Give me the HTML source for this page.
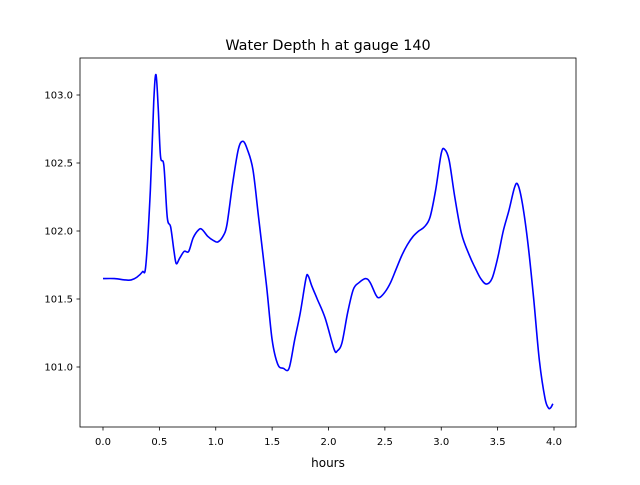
<!DOCTYPE html>
<html><head><meta charset="utf-8"><style>
body{margin:0;background:#fff;width:640px;height:480px;overflow:hidden}
svg text{font-family:"DejaVu Sans","Liberation Sans",sans-serif;fill:#000}
</style></head><body>
<svg id="chart" width="640" height="480">
<rect width="640" height="480" fill="#fff"/>
<text x="328" y="50" font-size="14.4" text-anchor="middle">Water Depth h at gauge 140</text>
<g id="xt"></g>
<g id="yt"></g>
<path id="line" fill="none" stroke="#0000ff" stroke-width="1.6"/>
<rect x="80" y="58" width="496" height="369" fill="none" stroke="#000" stroke-width="0.8"/>
<text x="328" y="467" font-size="12" text-anchor="middle">hours</text>
</svg>
<script>
const hours=[0,0.1,0.2,0.25,0.3,0.35,0.38,0.42,0.45,0.47,0.49,0.51,0.54,0.57,0.6,0.63,0.65,0.68,0.72,0.76,0.8,0.85,0.88,0.93,0.98,1.02,1.07,1.1,1.15,1.2,1.24,1.28,1.33,1.38,1.45,1.5,1.55,1.6,1.65,1.7,1.75,1.8,1.82,1.85,1.9,1.97,2.05,2.08,2.12,2.17,2.22,2.27,2.33,2.37,2.42,2.45,2.5,2.55,2.6,2.65,2.7,2.75,2.8,2.85,2.9,2.95,3.0,3.03,3.07,3.12,3.18,3.25,3.3,3.35,3.4,3.45,3.5,3.55,3.6,3.65,3.68,3.72,3.77,3.82,3.87,3.92,3.95,3.97,3.99];
const depth=[101.65,101.65,101.64,101.64,101.66,101.70,101.75,102.3,102.95,103.15,102.9,102.55,102.48,102.1,102.03,101.85,101.76,101.8,101.85,101.85,101.95,102.01,102.01,101.96,101.93,101.92,101.97,102.05,102.35,102.6,102.66,102.6,102.45,102.1,101.6,101.2,101.02,100.99,100.99,101.2,101.4,101.65,101.67,101.6,101.5,101.36,101.13,101.12,101.18,101.4,101.57,101.62,101.65,101.62,101.53,101.51,101.55,101.62,101.72,101.82,101.9,101.96,102.0,102.03,102.1,102.3,102.57,102.6,102.52,102.25,101.98,101.82,101.73,101.65,101.61,101.65,101.8,102.0,102.15,102.32,102.34,102.2,101.9,101.5,101.05,100.77,100.7,100.7,100.73];
const xTicks=["0.0","0.5","1.0","1.5","2.0","2.5","3.0","3.5","4.0"];
const yTicks=["101.0","101.5","102.0","102.5","103.0"];
const X=v=>103+v*112.75, Y=v=>367-(v-101)*136;
const NS="http://www.w3.org/2000/svg";
const xt=document.getElementById('xt'), yt=document.getElementById('yt');
xTicks.forEach(t=>{const x=X(+t);
 const l=document.createElementNS(NS,'line');l.setAttribute('x1',x);l.setAttribute('x2',x);l.setAttribute('y1',427);l.setAttribute('y2',430.5);l.setAttribute('stroke','#000');l.setAttribute('stroke-width','0.8');
 
 xt.appendChild(l);
 const s=document.createElementNS(NS,'text');s.setAttribute('x',x);s.setAttribute('y',445);s.setAttribute('font-size','10');s.setAttribute('text-anchor','middle');s.textContent=t;
 
 xt.appendChild(s);});
yTicks.forEach(t=>{const y=Y(+t);
 const l=document.createElementNS(NS,'line');l.setAttribute('x1',76.5);l.setAttribute('x2',80);l.setAttribute('y1',y);l.setAttribute('y2',y);l.setAttribute('stroke','#000');l.setAttribute('stroke-width','0.8');
 
 yt.appendChild(l);
 const s=document.createElementNS(NS,'text');s.setAttribute('x',73);s.setAttribute('y',y+3.5);s.setAttribute('font-size','10');s.setAttribute('text-anchor','end');s.textContent=t;
 
 yt.appendChild(s);});
const p=hours.map((h,i)=>[X(h),Y(depth[i])]);
let d='M'+p[0][0]+','+p[0][1];
for(let i=0;i<p.length-1;i++){const p0=p[Math.max(0,i-1)],p1=p[i],p2=p[i+1],p3=p[Math.min(p.length-1,i+2)];
 const c1=[p1[0]+(p2[0]-p0[0])/6,p1[1]+(p2[1]-p0[1])/6],c2=[p2[0]-(p3[0]-p1[0])/6,p2[1]-(p3[1]-p1[1])/6];
 d+=` C${c1[0]},${c1[1]} ${c2[0]},${c2[1]} ${p2[0]},${p2[1]}`;}
document.getElementById('line').setAttribute('d',d);
</script>
</body></html>
